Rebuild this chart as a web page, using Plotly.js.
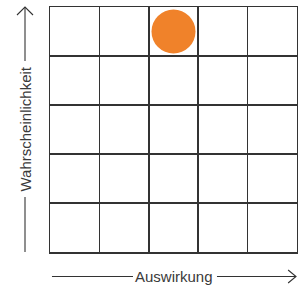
<!DOCTYPE html>
<html>
<head>
<meta charset="utf-8">
<script src="https://cdn.plot.ly/plotly-3.0.1.min.js"></script>
<style>html,body{margin:0;padding:0;background:#fff}#chart{width:298px;height:288px}</style>
</head>
<body>
<div id="chart"></div>
<script>
// Risk matrix data
const levels = [1, 2, 3, 4, 5];            // categories on both axes
const impact = [3];                         // Auswirkung of the risk point
const probability = [5];                    // Wahrscheinlichkeit of the risk point
const xLabel = "Auswirkung";
const yLabel = "Wahrscheinlichkeit";

const lineCol = "#333333";
const txtCol = "#3a3a3a";

const axisCommon = {
  range: [levels[0] - 0.5, levels[levels.length - 1] + 0.5],
  tick0: 0.5, dtick: 1, tickmode: "linear",
  showticklabels: false, ticks: "",
  showgrid: true, gridcolor: lineCol, gridwidth: 1.5,
  showline: true, linecolor: lineCol, linewidth: 1.5, mirror: true,
  zeroline: false, fixedrange: true
};

const trace = {
  type: "scatter", mode: "markers",
  x: impact, y: probability,
  marker: {size: 44, color: "#F0822A", line: {width: 0}},
  hoverinfo: "skip", cliponaxis: false
};

const lw = 1.1;
const layout = {
  width: 298, height: 288,
  margin: {l: 50, r: 1, t: 7, b: 36},
  paper_bgcolor: "#fff", plot_bgcolor: "#fff",
  showlegend: false,
  xaxis: Object.assign({}, axisCommon),
  yaxis: Object.assign({}, axisCommon),
  annotations: [
    {text: xLabel, xref: "paper", yref: "paper", x: 0.504, y: -0.1, showarrow: false,
     xanchor: "center", yanchor: "middle", font: {family: "Liberation Sans, Arial, sans-serif", size: 15, color: txtCol}},
    {text: yLabel, xref: "paper", yref: "paper", x: -0.1012, y: 0.5, showarrow: false, textangle: -90,
     xanchor: "center", yanchor: "middle", font: {family: "Liberation Sans, Arial, sans-serif", size: 15, color: txtCol}}
  ],
  shapes: [
    {type: "line", xref: "paper", yref: "paper", x0: 0.008, x1: 0.336, y0: -0.1, y1: -0.1, line: {color: lineCol, width: lw}},
    {type: "line", xref: "paper", yref: "paper", x0: 0.676, x1: 0.996, y0: -0.1, y1: -0.1, line: {color: lineCol, width: lw}},
    {type: "path", xref: "paper", yref: "paper",
     path: "M 0.964 -0.0735 L 0.996 -0.1 L 0.964 -0.1265", line: {color: lineCol, width: lw}},
    {type: "line", xref: "paper", yref: "paper", x0: -0.1012, x1: -0.1012, y0: 0.0, y1: 0.2245, line: {color: lineCol, width: lw}},
    {type: "line", xref: "paper", yref: "paper", x0: -0.1012, x1: -0.1012, y0: 0.7796, y1: 1.0, line: {color: lineCol, width: lw}},
    {type: "path", xref: "paper", yref: "paper",
     path: "M -0.1336 0.9673 L -0.1012 1.0 L -0.0688 0.9673", line: {color: lineCol, width: lw}}
  ]
};

Plotly.newPlot("chart", [trace], layout, {displayModeBar: false, staticPlot: true});
</script>
</body>
</html>
